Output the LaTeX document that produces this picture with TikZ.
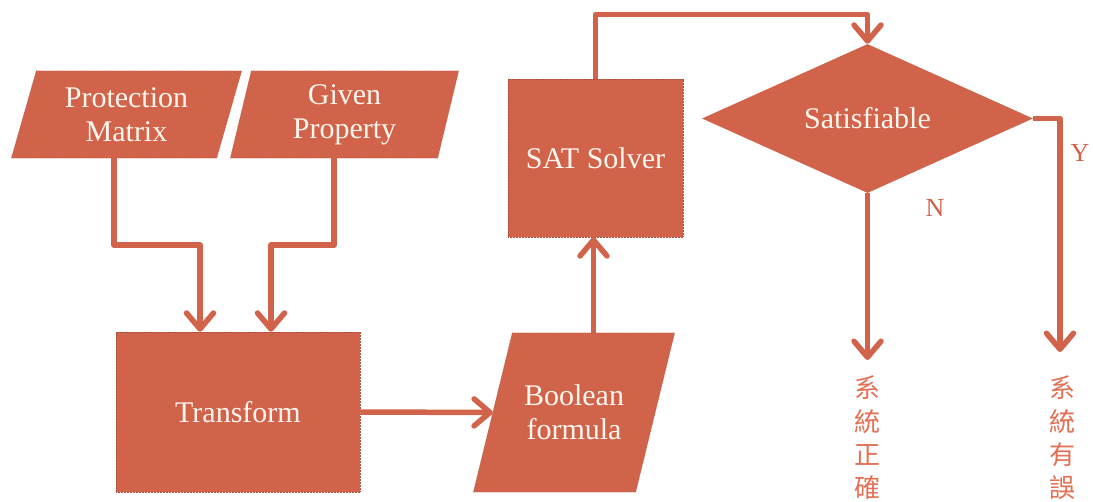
\documentclass[tikz,border=0pt]{standalone}
\usepackage{fontspec}
\setmainfont{Liberation Serif}
\newfontfamily\cjk{Noto Sans CJK TC}
\usetikzlibrary{shapes.geometric,arrows.meta,backgrounds}
\definecolor{brand}{RGB}{209,99,74}
\definecolor{brandedge}{RGB}{170,80,60}
\definecolor{labeltext}{RGB}{253,246,238}
\definecolor{cjktext}{RGB}{226,112,84}
% parallelogram behind a rectangular node: #1 node name, #2 half of the horizontal slant
\newcommand\slantfill[2]{%
  \path[slantshape] ([xshift=#2]#1.north west) -- ([xshift=#2]#1.north east)
    -- ([xshift=-#2]#1.south east) -- ([xshift=-#2]#1.south west) -- cycle;}
\begin{document}
\begin{tikzpicture}[x=1pt,y=-1pt,
  boxtext/.style={text=labeltext, font=\fontsize{30}{34}\selectfont, align=center, inner sep=0pt},
  box/.style={boxtext, fill=brand, draw=brandedge, densely dotted, line width=0.5pt},
  rectbox/.style={box, rectangle, minimum width=#1},
  slantbox/.style={boxtext, rectangle, minimum width=#1},
  slantshape/.style={fill=brand, draw=brandedge, densely dotted, line width=0.5pt},
  decision/.style={box, diamond, solid, draw=none},
  arr/.style={draw=brand, solid, line width=5.5pt, line join=round,
    -{Straight Barb[length=16pt,width=27pt,round]}},
  branch/.style={text=brand, font=\fontsize{26}{30}\selectfont},
  verdict/.style={text=cjktext, font=\cjk\fontsize{26}{33.3}\selectfont, align=center, inner sep=0pt}
]
\useasboundingbox (0,0) rectangle (1093,502);

% input data
\node[slantbox=205pt, minimum height=87pt] (pm) at (126.5,114.5) {Protection\\Matrix};
\node[slantbox=207pt, minimum height=87pt] (gp) at (344.5,114.5) {Given\\Property};

% processing
\node[rectbox=244pt, minimum height=160pt] (tr) at (238,412) {Transform};
\node[slantbox=162pt, minimum height=159pt] (bf) at (574,412.5) {Boolean\\formula};
\node[rectbox=175pt, minimum height=158pt] (sat) at (595.5,158) {SAT Solver};
\node[decision, minimum width=331pt, minimum height=149pt] (dec) at (867.5,118.5) {Satisfiable};

\begin{scope}[on background layer]
  \slantfill{pm}{12.5pt}
  \slantfill{gp}{10.5pt}
  \slantfill{bf}{19.5pt}
\end{scope}

% outcomes
\coordinate (no) at (867.5,360);
\coordinate (yes) at (1060,352);
\node[verdict] (ok) at (867.5,438) {系\\統\\正\\確};
\node[verdict] (bad) at (1062,438) {系\\統\\有\\誤};

% connectors
\draw[arr] ([xshift=-12.5pt]pm.south) -- ++(0,87) -| ([xshift=-38pt]tr.north);
\draw[arr] ([xshift=-10.5pt]gp.south) -- ++(0,87) -| ([xshift=33pt]tr.north);
\draw[arr] (tr.east) -- (bf.west);
\draw[arr] ([xshift=19.5pt]bf.north) -- ([xshift=19.5pt]bf.north |- sat.south);
\draw[arr] (sat.north) -- ++(0,-64) -| (dec.north);
\draw[arr] (dec.south) -- (no);
\draw[arr] (dec.east) -| (yes);

% branch labels
\node[branch] (nl) at (935,208) {N};
\node[branch] (yl) at (1080,153) {Y};
\end{tikzpicture}
\end{document}
